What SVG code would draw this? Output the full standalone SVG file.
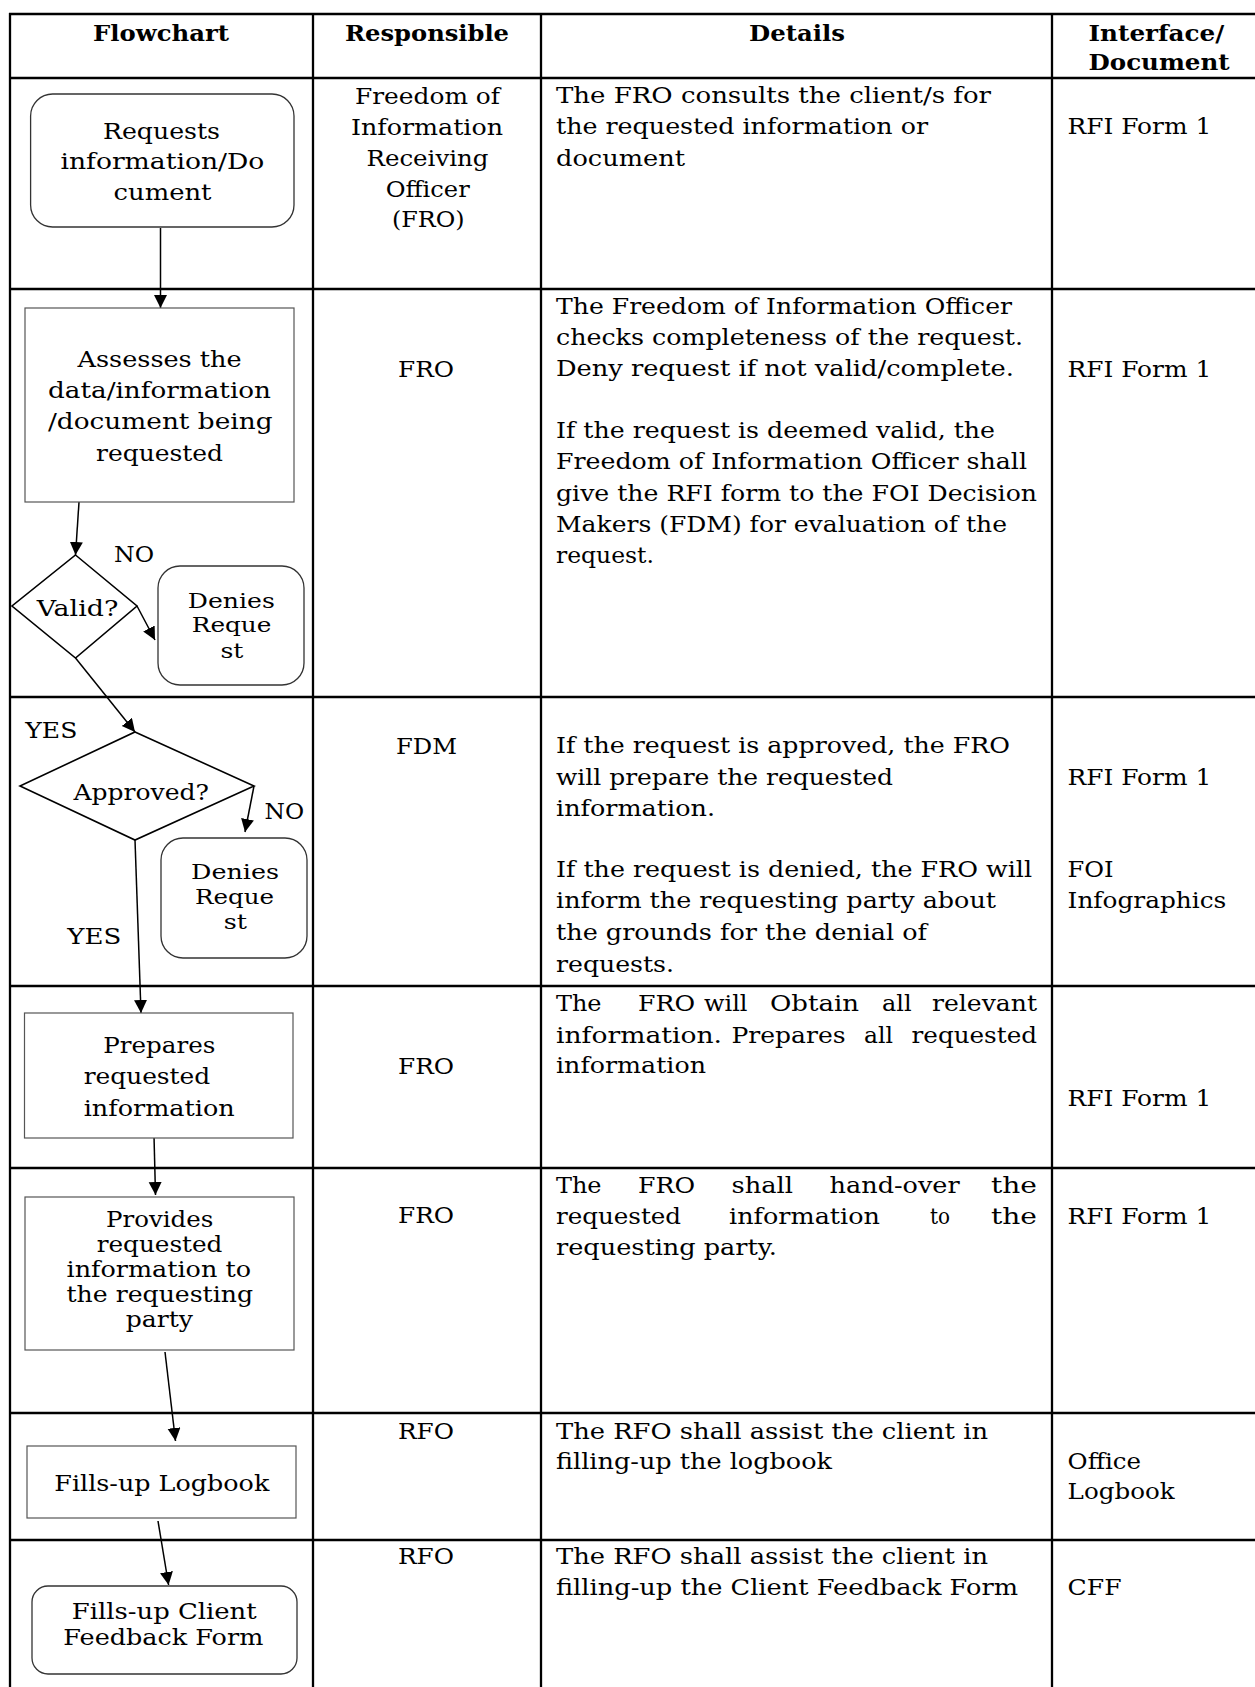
<svg xmlns="http://www.w3.org/2000/svg" width="1255" height="1687" viewBox="0 0 1255 1687">
<style>
text{font-family:"DejaVu Serif","Liberation Serif",serif;font-size:23px;fill:#000}
.h{font-weight:bold;font-size:22px}
.s{font-size:21px}
.grid line{stroke:#000;stroke-width:2.3}
.box{fill:#fff;stroke:#555;stroke-width:1.2}
.rbox{fill:#fff;stroke:#333;stroke-width:1.3}
.dia{fill:#fff;stroke:#000;stroke-width:1.6}
.conn line{stroke:#000;stroke-width:1.5;marker-end:url(#ah)}
</style>
<defs>
<marker id="ah" markerUnits="userSpaceOnUse" markerWidth="14" markerHeight="14" refX="13" refY="6.5" orient="auto">
<path d="M0,0 L13,6.5 L0,13 z" fill="#000"/>
</marker>
</defs>
<rect width="1255" height="1687" fill="#fff"/>
<g id="table" class="grid">
<line x1="9" y1="14" x2="1255" y2="14"/>
<line x1="9" y1="78" x2="1255" y2="78"/>
<line x1="9" y1="289" x2="1255" y2="289"/>
<line x1="9" y1="697" x2="1255" y2="697"/>
<line x1="9" y1="986" x2="1255" y2="986"/>
<line x1="9" y1="1168" x2="1255" y2="1168"/>
<line x1="9" y1="1413" x2="1255" y2="1413"/>
<line x1="9" y1="1540" x2="1255" y2="1540"/>
<line x1="10" y1="13" x2="10" y2="1687"/>
<line x1="313" y1="13" x2="313" y2="1687"/>
<line x1="541" y1="13" x2="541" y2="1687"/>
<line x1="1052" y1="13" x2="1052" y2="1687"/>
</g>
<g id="header">
<text class="h" x="93" y="41" textLength="136" lengthAdjust="spacingAndGlyphs">Flowchart</text>
<text class="h" x="345" y="41" textLength="164" lengthAdjust="spacingAndGlyphs">Responsible</text>
<text class="h" x="749" y="41" textLength="96" lengthAdjust="spacingAndGlyphs">Details</text>
<text class="h" x="1088.6" y="41" textLength="135.6" lengthAdjust="spacingAndGlyphs">Interface/</text>
<text class="h" x="1088.6" y="70" textLength="141" lengthAdjust="spacingAndGlyphs">Document</text>
</g>
<g id="responsible">
<text x="355" y="104" textLength="145" lengthAdjust="spacingAndGlyphs">Freedom of</text>
<text x="351" y="135" textLength="152" lengthAdjust="spacingAndGlyphs">Information</text>
<text x="366.5" y="166" textLength="122" lengthAdjust="spacingAndGlyphs">Receiving</text>
<text x="385.7" y="197" textLength="84" lengthAdjust="spacingAndGlyphs">Officer</text>
<text x="392" y="227" textLength="72.6" lengthAdjust="spacingAndGlyphs">(FRO)</text>
<text x="398" y="377" textLength="56" lengthAdjust="spacingAndGlyphs">FRO</text>
<text x="396" y="754" textLength="61" lengthAdjust="spacingAndGlyphs">FDM</text>
<text x="398" y="1074" textLength="56" lengthAdjust="spacingAndGlyphs">FRO</text>
<text x="398" y="1223" textLength="56" lengthAdjust="spacingAndGlyphs">FRO</text>
<text x="398" y="1439" textLength="56" lengthAdjust="spacingAndGlyphs">RFO</text>
<text x="398" y="1564" textLength="56" lengthAdjust="spacingAndGlyphs">RFO</text>
</g>
<g id="details">
<text x="556" y="103" textLength="435" lengthAdjust="spacingAndGlyphs">The FRO consults the client/s for</text>
<text x="556" y="134" textLength="372" lengthAdjust="spacingAndGlyphs">the requested information or</text>
<text x="556" y="165.5" textLength="129" lengthAdjust="spacingAndGlyphs">document</text>
<text x="556" y="314" textLength="456" lengthAdjust="spacingAndGlyphs">The Freedom of Information Officer</text>
<text x="556" y="345" textLength="467" lengthAdjust="spacingAndGlyphs">checks completeness of the request.</text>
<text x="556" y="376" textLength="458" lengthAdjust="spacingAndGlyphs">Deny request if not valid/complete.</text>
<text x="556" y="438" textLength="439" lengthAdjust="spacingAndGlyphs">If the request is deemed valid, the</text>
<text x="556" y="469" textLength="471" lengthAdjust="spacingAndGlyphs">Freedom of Information Officer shall</text>
<text x="556" y="500.5" textLength="481" lengthAdjust="spacingAndGlyphs">give the RFI form to the FOI Decision</text>
<text x="556" y="532" textLength="451" lengthAdjust="spacingAndGlyphs">Makers (FDM) for evaluation of the</text>
<text x="556" y="563" textLength="98" lengthAdjust="spacingAndGlyphs">request.</text>
<text x="556" y="753" textLength="454" lengthAdjust="spacingAndGlyphs">If the request is approved, the FRO</text>
<text x="556" y="785" textLength="337" lengthAdjust="spacingAndGlyphs">will prepare the requested</text>
<text x="556" y="816" textLength="159" lengthAdjust="spacingAndGlyphs">information.</text>
<text x="556" y="877" textLength="476" lengthAdjust="spacingAndGlyphs">If the request is denied, the FRO will</text>
<text x="556" y="908" textLength="440" lengthAdjust="spacingAndGlyphs">inform the requesting party about</text>
<text x="556" y="940" textLength="371" lengthAdjust="spacingAndGlyphs">the grounds for the denial of</text>
<text x="556" y="972" textLength="118" lengthAdjust="spacingAndGlyphs">requests.</text>
<text y="1011"><tspan x="556" textLength="45.5" lengthAdjust="spacingAndGlyphs">The</tspan><tspan x="638" textLength="57" lengthAdjust="spacingAndGlyphs">FRO</tspan><tspan x="704" textLength="43.5" lengthAdjust="spacingAndGlyphs">will</tspan><tspan x="770" textLength="89" lengthAdjust="spacingAndGlyphs">Obtain</tspan><tspan x="882" textLength="29.6" lengthAdjust="spacingAndGlyphs">all</tspan><tspan x="932" textLength="105" lengthAdjust="spacingAndGlyphs">relevant</tspan></text>
<text y="1042.5"><tspan x="556" textLength="166" lengthAdjust="spacingAndGlyphs">information.</tspan><tspan x="731.5" textLength="114" lengthAdjust="spacingAndGlyphs">Prepares</tspan><tspan x="864" textLength="29" lengthAdjust="spacingAndGlyphs">all</tspan><tspan x="911.6" textLength="125.4" lengthAdjust="spacingAndGlyphs">requested</tspan></text>
<text x="556" y="1073" textLength="150" lengthAdjust="spacingAndGlyphs">information</text>
<text y="1193"><tspan x="556" textLength="45.5" lengthAdjust="spacingAndGlyphs">The</tspan><tspan x="638" textLength="57" lengthAdjust="spacingAndGlyphs">FRO</tspan><tspan x="731.5" textLength="61.5" lengthAdjust="spacingAndGlyphs">shall</tspan><tspan x="829.6" textLength="130" lengthAdjust="spacingAndGlyphs">hand-over</tspan><tspan x="991" textLength="46" lengthAdjust="spacingAndGlyphs">the</tspan></text>
<text y="1224"><tspan x="556" textLength="125" lengthAdjust="spacingAndGlyphs">requested</tspan><tspan x="729" textLength="151" lengthAdjust="spacingAndGlyphs">information</tspan><tspan x="930" textLength="20" lengthAdjust="spacingAndGlyphs">to</tspan><tspan x="991" textLength="46" lengthAdjust="spacingAndGlyphs">the</tspan></text>
<text x="556" y="1255" textLength="221" lengthAdjust="spacingAndGlyphs">requesting party.</text>
<text x="556" y="1439" textLength="432" lengthAdjust="spacingAndGlyphs">The RFO shall assist the client in</text>
<text x="556" y="1469" textLength="276" lengthAdjust="spacingAndGlyphs">filling-up the logbook</text>
<text x="556" y="1564" textLength="432" lengthAdjust="spacingAndGlyphs">The RFO shall assist the client in</text>
<text x="556" y="1595" textLength="462" lengthAdjust="spacingAndGlyphs">filling-up the Client Feedback Form</text>
</g>
<g id="documents">
<text x="1067.6" y="134" textLength="143.6" lengthAdjust="spacingAndGlyphs">RFI Form 1</text>
<text x="1067.6" y="377" textLength="143.6" lengthAdjust="spacingAndGlyphs">RFI Form 1</text>
<text x="1067.6" y="785" textLength="143.6" lengthAdjust="spacingAndGlyphs">RFI Form 1</text>
<text x="1067.6" y="877" textLength="46" lengthAdjust="spacingAndGlyphs">FOI</text>
<text x="1067.6" y="908" textLength="158.7" lengthAdjust="spacingAndGlyphs">Infographics</text>
<text x="1067.6" y="1106" textLength="143.6" lengthAdjust="spacingAndGlyphs">RFI Form 1</text>
<text x="1067.6" y="1224" textLength="143.6" lengthAdjust="spacingAndGlyphs">RFI Form 1</text>
<text x="1067.6" y="1469" textLength="73.4" lengthAdjust="spacingAndGlyphs">Office</text>
<text x="1067.6" y="1499" textLength="107" lengthAdjust="spacingAndGlyphs">Logbook</text>
<text x="1067.6" y="1595" textLength="54" lengthAdjust="spacingAndGlyphs">CFF</text>
</g>
<g id="connectors" class="conn">
<line x1="160.5" y1="228" x2="160.5" y2="308"/>
<line x1="79" y1="502" x2="75.5" y2="555"/>
<line x1="137" y1="606" x2="155" y2="640"/>
<line x1="75.5" y1="658" x2="135" y2="732"/>
<line x1="254" y1="786" x2="245" y2="832"/>
<line x1="135" y1="840" x2="141" y2="1013"/>
<line x1="154" y1="1136" x2="155.5" y2="1195"/>
<line x1="165" y1="1352" x2="175.5" y2="1441"/>
<line x1="158" y1="1521" x2="168.6" y2="1585"/>
</g>
<g id="n-requests">
<rect class="rbox" x="30.6" y="94" width="263.4" height="133" rx="22"/>
<text x="103" y="138.5" textLength="117" lengthAdjust="spacingAndGlyphs">Requests</text>
<text x="60.4" y="169" textLength="204" lengthAdjust="spacingAndGlyphs">information/Do</text>
<text x="113.5" y="200" textLength="98" lengthAdjust="spacingAndGlyphs">cument</text>
</g>
<g id="n-assesses">
<rect class="box" x="25" y="308" width="269" height="194"/>
<text x="77.6" y="367" textLength="164" lengthAdjust="spacingAndGlyphs">Assesses the</text>
<text x="48" y="398" textLength="223" lengthAdjust="spacingAndGlyphs">data/information</text>
<text x="48" y="429" textLength="224.5" lengthAdjust="spacingAndGlyphs">/document being</text>
<text x="96" y="461" textLength="127" lengthAdjust="spacingAndGlyphs">requested</text>
</g>
<g id="n-valid">
<polygon class="dia" points="75.5,555 137,606 75.5,658 12,606"/>
<text x="36.7" y="615.5" textLength="81.6" lengthAdjust="spacingAndGlyphs">Valid?</text>
</g>
<g id="n-denies1">
<rect class="rbox" x="158" y="566" width="146" height="119" rx="22"/>
<text class="s" x="187.8" y="608" textLength="87" lengthAdjust="spacingAndGlyphs">Denies</text>
<text class="s" x="191.8" y="631.5" textLength="79.6" lengthAdjust="spacingAndGlyphs">Reque</text>
<text class="s" x="220.4" y="657.5" textLength="23" lengthAdjust="spacingAndGlyphs">st</text>
</g>
<g id="n-approved">
<polygon class="dia" points="135,732 254,786 135,840 20,786"/>
<text x="73.5" y="800" textLength="135.5" lengthAdjust="spacingAndGlyphs">Approved?</text>
</g>
<g id="n-denies2">
<rect class="rbox" x="161" y="838" width="146" height="120" rx="22"/>
<text class="s" x="191" y="879" textLength="88" lengthAdjust="spacingAndGlyphs">Denies</text>
<text class="s" x="195" y="904" textLength="79" lengthAdjust="spacingAndGlyphs">Reque</text>
<text class="s" x="223.7" y="928.5" textLength="23.3" lengthAdjust="spacingAndGlyphs">st</text>
</g>
<g id="labels">
<text x="114" y="562" textLength="40" lengthAdjust="spacingAndGlyphs">NO</text>
<text x="25.3" y="738" textLength="52" lengthAdjust="spacingAndGlyphs">YES</text>
<text x="264.5" y="819" textLength="39.6" lengthAdjust="spacingAndGlyphs">NO</text>
<text x="67.3" y="944" textLength="54" lengthAdjust="spacingAndGlyphs">YES</text>
</g>
<g id="n-prepares">
<rect class="box" x="24.5" y="1013" width="268.5" height="125"/>
<text x="103.3" y="1053" textLength="112" lengthAdjust="spacingAndGlyphs">Prepares</text>
<text x="83.7" y="1084" textLength="126.5" lengthAdjust="spacingAndGlyphs">requested</text>
<text x="83.7" y="1116" textLength="151" lengthAdjust="spacingAndGlyphs">information</text>
</g>
<g id="n-provides">
<rect class="box" x="25" y="1197" width="269" height="153"/>
<text x="106" y="1226.5" textLength="107.3" lengthAdjust="spacingAndGlyphs">Provides</text>
<text x="96.7" y="1251.5" textLength="125.7" lengthAdjust="spacingAndGlyphs">requested</text>
<text x="66.5" y="1276.5" textLength="184.5" lengthAdjust="spacingAndGlyphs">information to</text>
<text x="66.5" y="1302" textLength="186.5" lengthAdjust="spacingAndGlyphs">the requesting</text>
<text x="125.7" y="1326.5" textLength="67.3" lengthAdjust="spacingAndGlyphs">party</text>
</g>
<g id="n-logbook">
<rect class="box" x="27" y="1446" width="269" height="72"/>
<text x="54.3" y="1490.5" textLength="215" lengthAdjust="spacingAndGlyphs">Fills-up Logbook</text>
</g>
<g id="n-feedback">
<rect class="rbox" x="32" y="1586" width="265" height="88" rx="16"/>
<text x="71.7" y="1618.5" textLength="185" lengthAdjust="spacingAndGlyphs">Fills-up Client</text>
<text x="63.3" y="1645" textLength="200" lengthAdjust="spacingAndGlyphs">Feedback Form</text>
</g>
</svg>
